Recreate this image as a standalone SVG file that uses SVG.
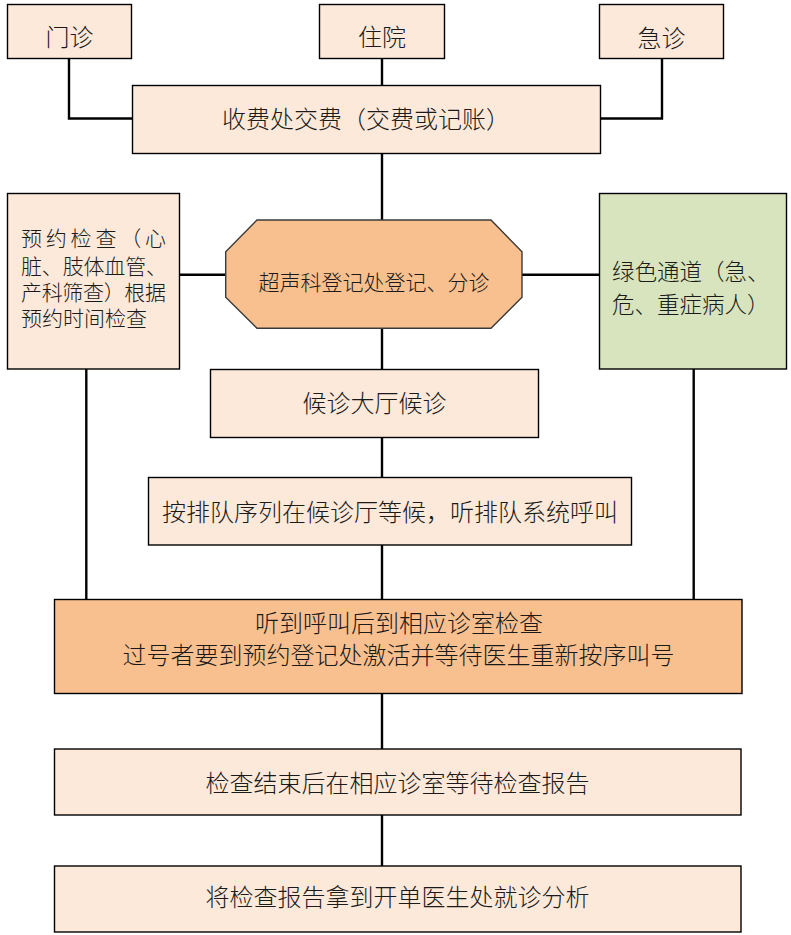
<svg xmlns="http://www.w3.org/2000/svg" width="791" height="935" viewBox="0 0 791 935">
<style>
.bx{fill:#FDE9D9;stroke:#000;stroke-width:1.4}
.or{fill:#F9C08F;stroke:#000;stroke-width:1.4}
.gr{fill:#D7E4BD;stroke:#000;stroke-width:1.4}
.oct{fill:#F9C08F;stroke:#3a3a3a;stroke-width:1.4}
.cn{fill:none;stroke:#000;stroke-width:2.4}
text{font-family:"Liberation Sans","Noto Sans CJK SC",sans-serif;fill:#1a1a1a;font-weight:300}
.c{text-anchor:middle;font-size:24px}
.s{font-size:21px}
.g{font-size:22.5px}
</style>
<rect width="791" height="935" fill="#fff"/>
<g id="connectors">
<polyline class="cn" points="69,58.5 69,118.5 132.5,118.5"/>
<line class="cn" x1="382" y1="58.5" x2="382" y2="85.5"/>
<polyline class="cn" points="662,58.5 662,118.5 600.5,118.5"/>
<line class="cn" x1="382" y1="153.5" x2="382" y2="220"/>
<line class="cn" x1="179.5" y1="274.7" x2="225.7" y2="274.7"/>
<line class="cn" x1="522" y1="274.7" x2="599.5" y2="274.7"/>
<line class="cn" x1="382" y1="328.3" x2="382" y2="369.5"/>
<line class="cn" x1="382" y1="437.3" x2="382" y2="477.3"/>
<line class="cn" x1="382" y1="545" x2="382" y2="599.5"/>
<line class="cn" x1="86.3" y1="369" x2="86.3" y2="599.5"/>
<line class="cn" x1="693.7" y1="369" x2="693.7" y2="599.5"/>
<line class="cn" x1="382" y1="693.5" x2="382" y2="749"/>
<line class="cn" x1="382" y1="815" x2="382" y2="866"/>
</g>
<g id="n-menzhen"><rect class="bx" x="7.5" y="4.5" width="124" height="54"/><text class="c" x="69.5" y="46">门诊</text></g>
<g id="n-zhuyuan"><rect class="bx" x="319.5" y="4.5" width="125" height="54"/><text class="c" x="382" y="46">住院</text></g>
<g id="n-jizhen"><rect class="bx" x="599.5" y="4.5" width="124" height="54"/><text class="c" x="661.5" y="46.5">急诊</text></g>
<g id="n-shoufei"><rect class="bx" x="132.5" y="85.5" width="468" height="68"/><text class="c" x="366" y="127.5">收费处交费（交费或记账）</text></g>
<g id="n-yuyue"><rect class="bx" x="7.5" y="193.5" width="172" height="175.5"/>
<text class="s" x="21" y="245.5" textLength="145" lengthAdjust="spacing">预约检查（心</text>
<text class="s" x="21" y="273.5" textLength="146" lengthAdjust="spacing">脏、肢体血管、</text>
<text class="s" x="21" y="300" textLength="145" lengthAdjust="spacing">产科筛查）根据</text>
<text class="s" x="21" y="326">预约时间检查</text></g>
<g id="n-dengji"><polygon class="oct" points="257,220 491,220 522,251.7 522,297.3 491,328.3 257,328.3 225.7,297.3 225.7,251.7"/><text class="c s" x="374" y="289.5">超声科登记处登记、分诊</text></g>
<g id="n-lvse"><rect class="gr" x="599.5" y="193.5" width="187" height="175.5"/>
<text class="g" x="612" y="279.5">绿色通道（急、</text>
<text class="g" x="612" y="312.5">危、重症病人）</text></g>
<g id="n-houzhen"><rect class="bx" x="210.5" y="369.5" width="328" height="68"/><text class="c" x="374.5" y="412">候诊大厅候诊</text></g>
<g id="n-paidui"><rect class="bx" x="148.5" y="477.5" width="483" height="67.5"/><text class="c" x="390" y="520.5">按排队序列在候诊厅等候，听排队系统呼叫</text></g>
<g id="n-jiaohao"><rect class="or" x="54.5" y="599.5" width="687.5" height="94"/>
<text class="c" x="399" y="632">听到呼叫后到相应诊室检查</text>
<text class="c" x="398.5" y="664">过号者要到预约登记处激活并等待医生重新按序叫号</text></g>
<g id="n-baogao"><rect class="bx" x="54.5" y="749" width="686.5" height="66"/><text class="c" x="397.5" y="792">检查结束后在相应诊室等待检查报告</text></g>
<g id="n-fenxi"><rect class="bx" x="54.5" y="866" width="686.5" height="66"/><text class="c" x="397.5" y="905.5">将检查报告拿到开单医生处就诊分析</text></g>
</svg>
